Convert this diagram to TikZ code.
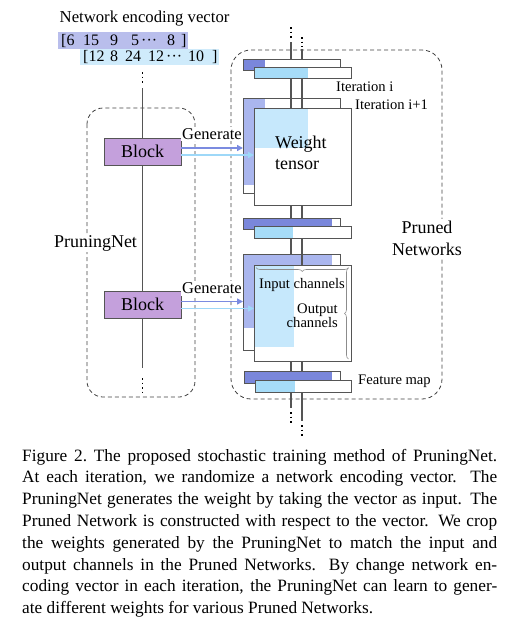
\documentclass[tikz,border=0pt]{standalone}
\usepackage{fontspec}
\setmainfont{Liberation Serif}
\usetikzlibrary{decorations.pathreplacing,arrows.meta}
\definecolor{darkbar}{RGB}{122,135,219}
\definecolor{lightbar}{RGB}{166,220,248}
\definecolor{lav}{RGB}{170,182,238}
\definecolor{paleblue}{RGB}{198,232,252}
\definecolor{vecA}{RGB}{185,190,236}
\definecolor{vecB}{RGB}{207,235,251}
\definecolor{blockfill}{RGB}{196,160,220}
\definecolor{edgegray}{RGB}{85,85,85}
\definecolor{genA}{RGB}{123,139,224}
\definecolor{genB}{RGB}{158,216,248}
\newcommand\mybox[7]{%
  \fill[white] (#1,#2) rectangle (#3,#4);
  \fill[#7] (#1,#2) rectangle (#5,#6);
  \draw[outline] (#1,#2) rectangle (#3,#4);}
\newcommand\mydots{\textperiodcentered\textperiodcentered\textperiodcentered}
\begin{document}
\begin{tikzpicture}[x=1pt,y=-1pt,
  outline/.style={draw=edgegray,line width=0.9pt},
  wire/.style={draw=edgegray,line width=1.1pt},
  dotwire/.style={draw=black,line width=1.5pt,dash pattern=on 1.5pt off 3pt},
  dashbox/.style={draw=black!75,line width=0.8pt,dash pattern=on 4pt off 3pt},
  blockbox/.style={draw=edgegray,fill=blockfill,line width=0.9pt,minimum width=77pt,minimum height=27pt,inner sep=0pt,font=\fontsize{18}{20}\selectfont},
  biglbl/.style={inner sep=0pt,font=\fontsize{18}{21}\selectfont},
  smalllbl/.style={inner sep=0pt,font=\fontsize{14.6}{14}\selectfont},
  genlbl/.style={fill=white,inner sep=1.5pt,font=\fontsize{16.5}{18}\selectfont},
  vtxt/.style={inner sep=0pt,anchor=base west,font=\fontsize{16}{17}\selectfont},
  gentipA/.style={draw=genA,line width=1.6pt,-{Triangle[length=6pt,width=6pt]}},
  gentipB/.style={draw=genB,line width=1.6pt,-{Triangle[length=6pt,width=6pt]}},
  bracestyle/.style={draw=black!45,line width=0.6pt,decorate,decoration={brace,mirror,amplitude=4pt}},
  captionline/.style={anchor=base west,inner sep=0pt,font=\fontsize{17.3}{21.8}\selectfont},
]
\useasboundingbox (0,0) rectangle (518,625);

% ---- encoding vector ----
\node[anchor=base west,inner sep=0pt,font=\fontsize{16.7}{18}\selectfont] (title) at (59.5,22.5) {Network encoding vector};
\fill[vecA] (58,32) rectangle (188,49);
\fill[vecB] (80,49) rectangle (219,65);
\node[vtxt] (va1) at (61,45.5) {[6};
\node[vtxt] (va2) at (83,45.5) {15};
\node[vtxt] (va3) at (110,45.5) {9};
\node[vtxt] (va4) at (131,45.5) {5};
\node[vtxt] (va5) at (141,45.5) {\mydots};
\node[vtxt] (va6) at (167,45.5) {8};
\node[vtxt] (va7) at (181,45.5) {]};
\node[vtxt] (vb1) at (83,61) {[12};
\node[vtxt] (vb2) at (110,61) {8};
\node[vtxt] (vb3) at (125,61) {24};
\node[vtxt] (vb4) at (148,61) {12};
\node[vtxt] (vb5) at (166,61) {\mydots};
\node[vtxt] (vb6) at (188,61) {10};
\node[vtxt] (vb7) at (212,61) {]};

% ---- dashed groups ----
\draw[dashbox,rounded corners=16pt] (87,108) rectangle (195,397);
\draw[dashbox,rounded corners=20pt] (231,50) rectangle (442,399);

% ---- PruningNet spine ----
\draw[dotwire] (142.5,72) -- (142.5,84);
\coordinate (ptop) at (142.5,88);
\coordinate (pbot) at (142.5,368);
\node[blockbox] (blk1) at (142.5,151.5) {Block};
\node[blockbox] (blk2) at (142.5,304.5) {Block};
\draw[wire] (ptop) -- (blk1) -- (blk2) -- (pbot);
\draw[dotwire] (142.5,378) -- (142.5,392);
\node[biglbl,fill=white,inner sep=1.5pt] (pnlbl) at (95.5,243) {PruningNet};

\node[genlbl] (gen1) at (212,134) {Generate};
\node[genlbl] (gen2) at (212,288.5) {Generate};
\node[biglbl,fill=white,inner sep=2pt,align=center,font=\fontsize{18}{22}\selectfont] (pruned) at (427,238) {Pruned\\Networks};

% ---- Pruned network stack ----
\draw[dotwire] (291,27) -- (291,40);
\draw[dotwire] (302,37) -- (302,47);
\draw[wire] (291,42) -- (291,59);
\draw[wire] (302,49) -- (302,59);
\mybox{243}{59}{340}{70}{265}{70}{darkbar}
\mybox{254}{67}{351}{78}{308}{78}{lightbar}
\node[smalllbl,anchor=west] (iti) at (336,87) {Iteration i};
\node[smalllbl,anchor=west] (itj) at (355,105) {Iteration i+1};

\mybox{243}{98}{340}{193}{265}{185}{lav}
\draw[wire] (291,78) -- (291,108);
\draw[wire] (302,78) -- (302,108);
\mybox{254}{108}{351}{205}{308}{148}{paleblue}
\node[biglbl,align=left,anchor=west] (wt) at (275,152.5) {Weight\\tensor};

\draw[wire] (291,205) -- (291,218);
\draw[wire] (302,205) -- (302,218);
\mybox{243}{218}{340}{229}{332}{229}{darkbar}
\mybox{254}{226}{351}{238}{293}{238}{lightbar}

\mybox{243}{254}{340}{350}{332}{328}{lav}
\draw[wire] (291,238) -- (291,254);
\draw[wire] (302,238) -- (302,265);
\mybox{254}{265}{351}{361}{294}{347}{paleblue}
\draw[bracestyle] (256,267.5) -- (348.5,267.5);
\draw[bracestyle] (348.5,268) -- (348.5,359);
\node[smalllbl] (inch) at (302,285) {Input channels};
\node[smalllbl,align=right,anchor=east] (outch) at (338,316) {Output\\channels};

\draw[wire] (291,361) -- (291,371);
\draw[wire] (302,361) -- (302,371);
\mybox{244}{371}{340}{383}{332}{383}{darkbar}
\mybox{255}{380}{351}{392}{295}{392}{lightbar}
\node[smalllbl,anchor=west] (fm) at (358,381) {Feature map};
\draw[wire] (291,392) -- (291,408);
\draw[dotwire] (291,412) -- (291,425);
\draw[wire] (302,392) -- (302,421);
\draw[dotwire] (302,425) -- (302,437);

% ---- Generate arrows ----
\coordinate (g1a) at (243,148);
\coordinate (g1b) at (254,155);
\coordinate (g2a) at (243,301.5);
\coordinate (g2b) at (254,308.5);
\draw[gentipA] (blk1.east |- g1a) -- (g1a);
\draw[gentipB] (blk1.east |- g1b) -- (g1b);
\draw[gentipA] (blk2.east |- g2a) -- (g2a);
\draw[gentipB] (blk2.east |- g2b) -- (g2b);

% ---- caption ----
\node[captionline] (c1) at (22,461) {\makebox[475pt][s]{Figure 2.\ The proposed stochastic training method of PruningNet.}};
\node[captionline] (c2) at (22,482.8) {\makebox[475pt][s]{At each iteration, we randomize a network encoding vector. The}};
\node[captionline] (c3) at (22,504.6) {\makebox[475pt][s]{PruningNet generates the weight by taking the vector as input. The}};
\node[captionline] (c4) at (22,526.4) {\makebox[475pt][s]{Pruned Network is constructed with respect to the vector. We crop}};
\node[captionline] (c5) at (22,548.2) {\makebox[475pt][s]{the weights generated by the PruningNet to match the input and}};
\node[captionline] (c6) at (22,570) {\makebox[475pt][s]{output channels in the Pruned Networks. By change network en-}};
\node[captionline] (c7) at (22,591.8) {\makebox[475pt][s]{coding vector in each iteration, the PruningNet can learn to gener-}};
\node[captionline] (c8) at (22,613.6) {ate different weights for various Pruned Networks.};
\end{tikzpicture}
\end{document}
